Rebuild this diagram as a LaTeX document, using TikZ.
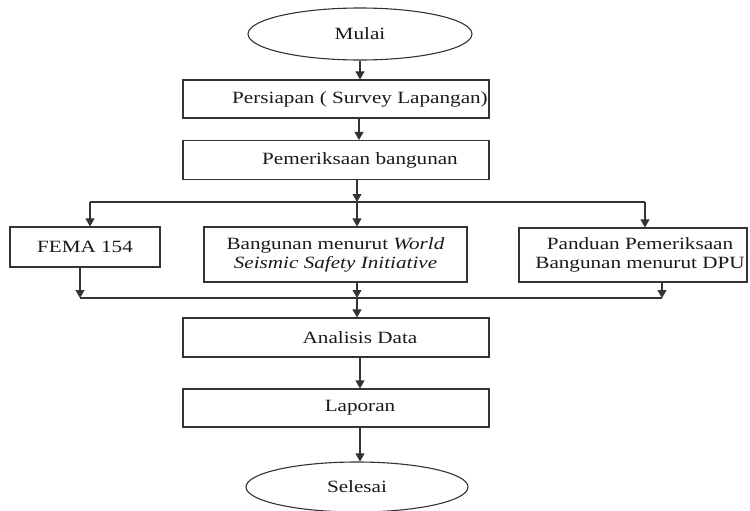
\documentclass[tikz,border=0pt]{standalone}
\usepackage{fontspec}
\setmainfont{Liberation Serif}
\usepackage{graphicx}
\usetikzlibrary{shapes.geometric,arrows.meta}
\newcommand{\hsx}[1]{\scalebox{1.23}[1]{#1}}
\newcommand{\rsh}{\hspace*{48pt}}
\begin{document}
\begin{tikzpicture}[x=1pt,y=-1pt,
  every node/.style={font=\fontsize{17.2}{20}\selectfont, text=black!90},
  boxst/.style={draw=black!80, line width=1.1pt, rectangle, inner sep=0pt},
  ovalst/.style={draw=black!80, line width=1.1pt, ellipse, inner sep=0pt},
  lnst/.style={draw=black!80, line width=1.1pt},
  arr/.style={lnst, -{Triangle[width=9pt,length=8pt]}}]
\useasboundingbox (0,0) rectangle (750,511);
\node[ovalst, minimum width=224, minimum height=52] (mulai) at (360,34) {\hsx{Mulai}};
\node[boxst, minimum width=306, minimum height=38] (persiapan) at (336,99) {\rsh\hsx{Persiapan ( Survey Lapangan)}};
\node[boxst, minimum width=306, minimum height=39] (periksa) at (336,160) {\rsh\hsx{Pemeriksaan bangunan}};
\node[boxst, minimum width=150, minimum height=40] (fema) at (85,247) {\hsx{FEMA 154}};
\node[boxst, minimum width=263, minimum height=55] (wssi) at (335.5,254.5)
  {\hsx{\begin{tabular}{@{}c@{}}Bangunan menurut \textit{World}\\[-1pt] \textit{Seismic Safety Initiative}\end{tabular}}};
\node[boxst, minimum width=228, minimum height=54] (dpu) at (633,255)
  {\hspace*{14pt}\hsx{\begin{tabular}{@{}c@{}}Panduan Pemeriksaan\\[-1pt] Bangunan menurut DPU\end{tabular}}};
\node[boxst, minimum width=306, minimum height=39] (analisis) at (336,337.5) {\rsh\hsx{Analisis Data}};
\node[boxst, minimum width=306, minimum height=38] (laporan) at (336,408) {\rsh\hsx{Laporan}};
\node[ovalst, minimum width=222, minimum height=50] (selesai) at (357,487) {\hsx{Selesai}};
% top chain
\draw[arr] (mulai.south) -- (mulai.south |- persiapan.north);
\draw[arr] (359,0 |- persiapan.south) -- (359,0 |- periksa.north);
% upper bus
\coordinate (bt) at (357,202);
\coordinate (btl) at (90,202);
\coordinate (btr) at (645,202);
\draw[arr] (357,0 |- periksa.south) -- (bt);
\draw[lnst] (btl) -- (btr);
\draw[arr] (btl) -- (btl |- fema.north);
\draw[arr] (bt) -- (bt |- wssi.north);
\draw[arr] (btr) -- (btr |- dpu.north);
% lower bus
\coordinate (bb) at (357,298);
\coordinate (bbl) at (80,298);
\coordinate (bbr) at (662,298);
\draw[lnst] (bbl) -- (bbr);
\draw[arr] (bbl |- fema.south) -- (bbl);
\draw[arr] (bb |- wssi.south) -- (bb);
\draw[arr] (bbr |- dpu.south) -- (bbr);
\draw[arr] (bb) -- (bb |- analisis.north);
% bottom chain
\draw[arr] (360,0 |- analisis.south) -- (360,0 |- laporan.north);
\draw[arr] (360,0 |- laporan.south) -- (360,0 |- selesai.north);
\end{tikzpicture}
\end{document}
